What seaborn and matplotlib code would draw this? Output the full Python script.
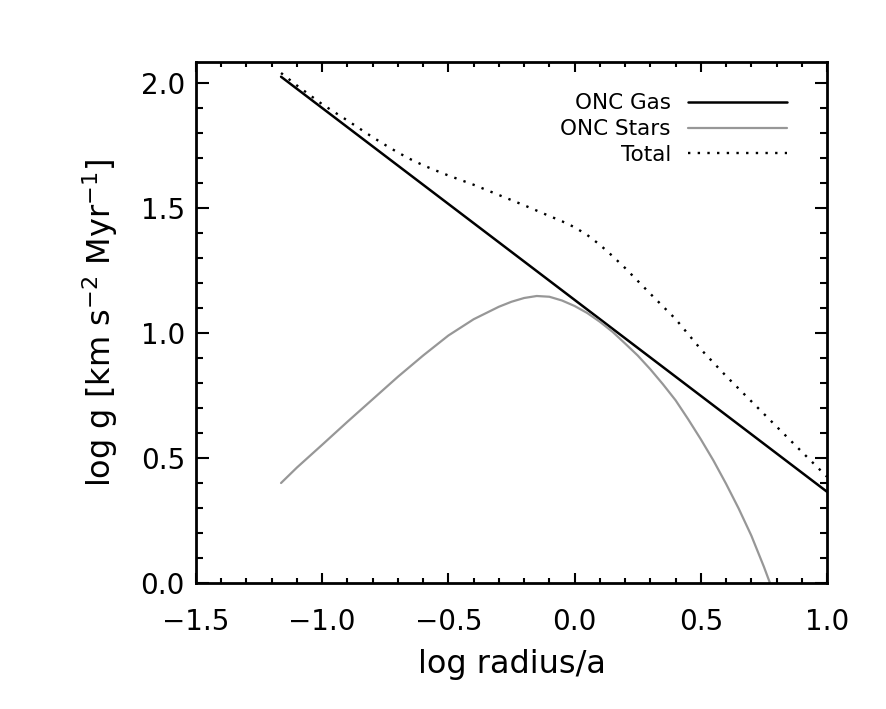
import matplotlib
matplotlib.use("Agg")
import matplotlib.pyplot as plt
from matplotlib.ticker import MultipleLocator
import seaborn as sns

# values
gas_x = [-1.163, 1.0]
gas_y = [2.025, 0.365]

stars_x = [-1.163, -1.1, -1.0, -0.9, -0.8, -0.7, -0.6, -0.5, -0.4, -0.3, -0.25, -0.2,
           -0.15, -0.1, -0.05, 0.0, 0.05, 0.1, 0.15, 0.2, 0.25, 0.3, 0.35, 0.4,
           0.45, 0.5, 0.55, 0.6, 0.65, 0.7, 0.75, 0.774]
stars_y = [0.40, 0.462, 0.553, 0.645, 0.735, 0.825, 0.91, 0.99, 1.055, 1.105, 1.125, 1.14,
           1.148, 1.145, 1.13, 1.108, 1.08, 1.045, 1.005, 0.958, 0.91, 0.855, 0.795, 0.731,
           0.655, 0.575, 0.49, 0.397, 0.298, 0.19, 0.065, 0.0]

total_x = [-1.163, -1.1, -1.0, -0.9, -0.8, -0.75, -0.7, -0.65, -0.6, -0.55, -0.5, -0.4,
           -0.3, -0.2, -0.1, -0.05, 0.0, 0.05, 0.1, 0.15, 0.2, 0.3, 0.4, 0.5, 0.6, 0.7,
           0.8, 0.9, 1.0]
total_y = [2.04, 1.99, 1.915, 1.85, 1.783, 1.752, 1.722, 1.695, 1.671, 1.65, 1.63, 1.593,
           1.552, 1.511, 1.468, 1.447, 1.423, 1.392, 1.353, 1.308, 1.26, 1.157, 1.056,
           0.935, 0.828, 0.727, 0.626, 0.525, 0.425]

labels = ["ONC Gas", "ONC Stars", "Total"]

sns.set_style("ticks")
plt.rcParams['font.family'] = ['DejaVu Sans']
plt.rcParams['mathtext.fontset'] = 'dejavusans'
plt.rcParams['text.color'] = 'black'
plt.rcParams['axes.labelcolor'] = 'black'

fig = plt.figure(figsize=(8.86, 7.09), dpi=100)
ax = fig.add_axes([196 / 886, 1 - 583 / 709, 631 / 886, 521 / 709])

sns.lineplot(x=gas_x, y=gas_y, ax=ax, color='black', lw=1.8, label=labels[0],
             estimator=None)
sns.lineplot(x=stars_x, y=stars_y, ax=ax, color='#979797', lw=1.6, label=labels[1],
             estimator=None)
sns.lineplot(x=total_x, y=total_y, ax=ax, color='black', lw=1.7, label=labels[2],
             estimator=None, linestyle=(0, (1, 3.1)), dash_capstyle='butt')

ax.set_xlim(-1.5, 1.0)
ax.set_ylim(0.0, 2.084)
ax.xaxis.set_major_locator(MultipleLocator(0.5))
ax.xaxis.set_minor_locator(MultipleLocator(0.1))
ax.yaxis.set_major_locator(MultipleLocator(0.5))
ax.yaxis.set_minor_locator(MultipleLocator(0.1))

ax.tick_params(which='both', direction='in', top=True, right=True, width=1.5,
               labelsize=20, color='black', labelcolor='black')
ax.tick_params(axis='x', which='major', length=7, pad=18)
ax.tick_params(axis='x', which='minor', length=3.6)
ax.tick_params(axis='y', which='major', length=9, pad=8)
ax.tick_params(axis='y', which='minor', length=5)
for s in ax.spines.values():
    s.set_linewidth(2)
    s.set_color('black')

ax.set_xlabel("log radius/a", fontsize=23, labelpad=9)
ax.set_ylabel(r"log g [km s$^{-2}$ Myr$^{-1}$]", fontsize=23, labelpad=15)

leg = ax.legend(loc='upper right', bbox_to_anchor=(0.937, 0.94), frameon=False,
                markerfirst=False, fontsize=15.5, handlelength=4.6, handletextpad=0.8,
                labelspacing=0.27, borderpad=0, borderaxespad=0)
for t in leg.get_texts():
    t.set_color('black')

fig.savefig("out.png", dpi=100)
